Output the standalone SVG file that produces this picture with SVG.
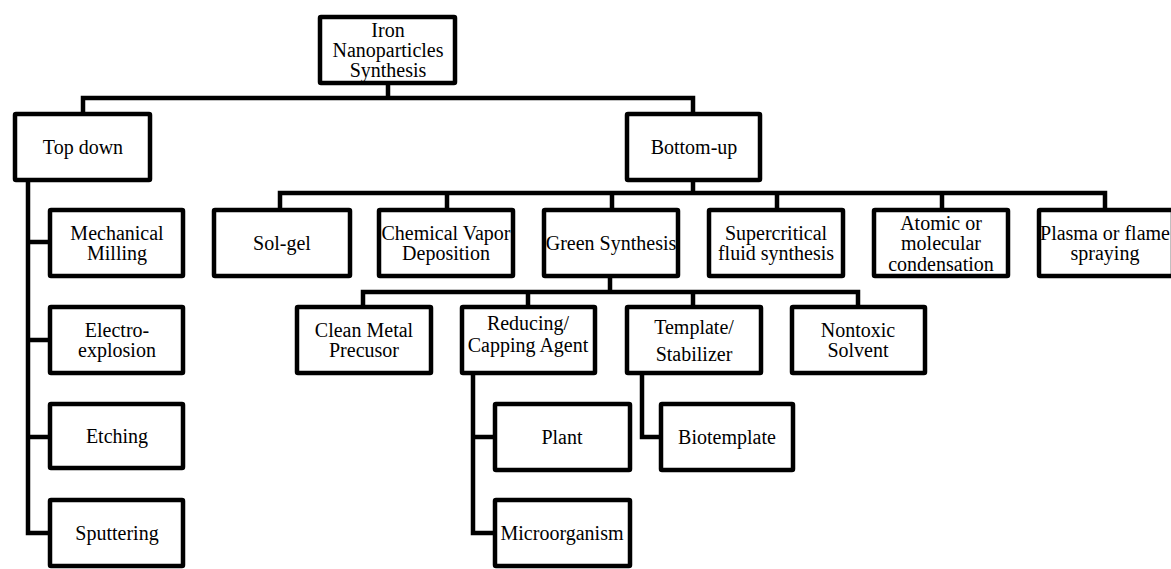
<svg xmlns="http://www.w3.org/2000/svg" width="1171" height="569" viewBox="0 0 1171 569">
<style>
.box{fill:#fff;stroke:#000;stroke-width:4.5;}
.lbl{font-family:"Liberation Serif","Times New Roman",serif;font-size:20px;fill:#000;text-anchor:middle;}
.conn{fill:none;stroke:#000;stroke-width:4.5;stroke-linejoin:miter;stroke-linecap:square;}
</style>
<rect x="0" y="0" width="1171" height="569" fill="#fff"/>
<g id="connectors" class="conn">
<path d="M388 85V98M83 98H693M83 98V112M693 98V112"/>
<path d="M28 182V533M28 242H48M28 340H48M28 437H48M28 533H48"/>
<path d="M693 182V193M280 193H1105M280 193V208M447 193V208M612 193V208M777 193V208M942 193V208M1105 193V208"/>
<path d="M610 278V292M363 292H858M363 292V305M528 292V305M693 292V305M858 292V305"/>
<path d="M473 375V533M473 437H493M473 533H493"/>
<path d="M642 375V437H659"/>
</g>
<g id="root"><rect class="box" x="320" y="17" width="135" height="66" rx="1"/><text class="lbl" x="388" y="37">Iron</text><text class="lbl" x="388" y="57">Nanoparticles</text><text class="lbl" x="388" y="77">Synthesis</text></g>
<g id="topdown"><rect class="box" x="15" y="114" width="135" height="66" rx="1"/><text class="lbl" x="83" y="154">Top down</text></g>
<g id="bottomup"><rect class="box" x="627" y="114" width="133" height="66" rx="1"/><text class="lbl" x="694" y="154">Bottom-up</text></g>
<g id="mech"><rect class="box" x="50" y="210" width="133" height="66" rx="1"/><text class="lbl" x="117" y="240">Mechanical</text><text class="lbl" x="117" y="260">Milling</text></g>
<g id="electro"><rect class="box" x="50" y="307" width="133" height="66" rx="1"/><text class="lbl" x="117" y="337">Electro-</text><text class="lbl" x="117" y="357">explosion</text></g>
<g id="etching"><rect class="box" x="50" y="404" width="133" height="64" rx="1"/><text class="lbl" x="117" y="443">Etching</text></g>
<g id="sputtering"><rect class="box" x="50" y="500" width="133" height="66" rx="1"/><text class="lbl" x="117" y="540">Sputtering</text></g>
<g id="solgel"><rect class="box" x="214" y="210" width="136" height="66" rx="1"/><text class="lbl" x="282" y="250">Sol-gel</text></g>
<g id="cvd"><rect class="box" x="379" y="210" width="134" height="66" rx="1"/><text class="lbl" x="446" y="240">Chemical Vapor</text><text class="lbl" x="446" y="260">Deposition</text></g>
<g id="green"><rect class="box" x="544" y="210" width="134" height="66" rx="1"/><text class="lbl" x="611" y="250">Green Synthesis</text></g>
<g id="supercritical"><rect class="box" x="709" y="210" width="134" height="66" rx="1"/><text class="lbl" x="776" y="240">Supercritical</text><text class="lbl" x="776" y="260">fluid synthesis</text></g>
<g id="atomic"><rect class="box" x="874" y="210" width="134" height="66" rx="1"/><text class="lbl" x="941" y="230">Atomic or</text><text class="lbl" x="941" y="250">molecular</text><text class="lbl" x="941" y="271">condensation</text></g>
<g id="plasma"><rect class="box" x="1039" y="210" width="134" height="66" rx="1"/><text class="lbl" x="1105" y="240">Plasma or flame</text><text class="lbl" x="1105" y="260">spraying</text></g>
<g id="clean"><rect class="box" x="297" y="307" width="134" height="66" rx="1"/><text class="lbl" x="364" y="337">Clean Metal</text><text class="lbl" x="364" y="357">Precusor</text></g>
<g id="reducing"><rect class="box" x="462" y="307" width="133" height="66" rx="1"/><text class="lbl" x="528" y="330">Reducing/</text><text class="lbl" x="528" y="352">Capping Agent</text></g>
<g id="template"><rect class="box" x="627" y="307" width="134" height="66" rx="1"/><text class="lbl" x="694" y="334">Template/</text><text class="lbl" x="694" y="361">Stabilizer</text></g>
<g id="nontoxic"><rect class="box" x="792" y="307" width="133" height="66" rx="1"/><text class="lbl" x="858" y="337">Nontoxic</text><text class="lbl" x="858" y="357">Solvent</text></g>
<g id="plant"><rect class="box" x="495" y="404" width="135" height="66" rx="1"/><text class="lbl" x="562" y="444">Plant</text></g>
<g id="microorganism"><rect class="box" x="495" y="500" width="135" height="66" rx="1"/><text class="lbl" x="562" y="540">Microorganism</text></g>
<g id="biotemplate"><rect class="box" x="661" y="404" width="132" height="66" rx="1"/><text class="lbl" x="727" y="444">Biotemplate</text></g>
</svg>
